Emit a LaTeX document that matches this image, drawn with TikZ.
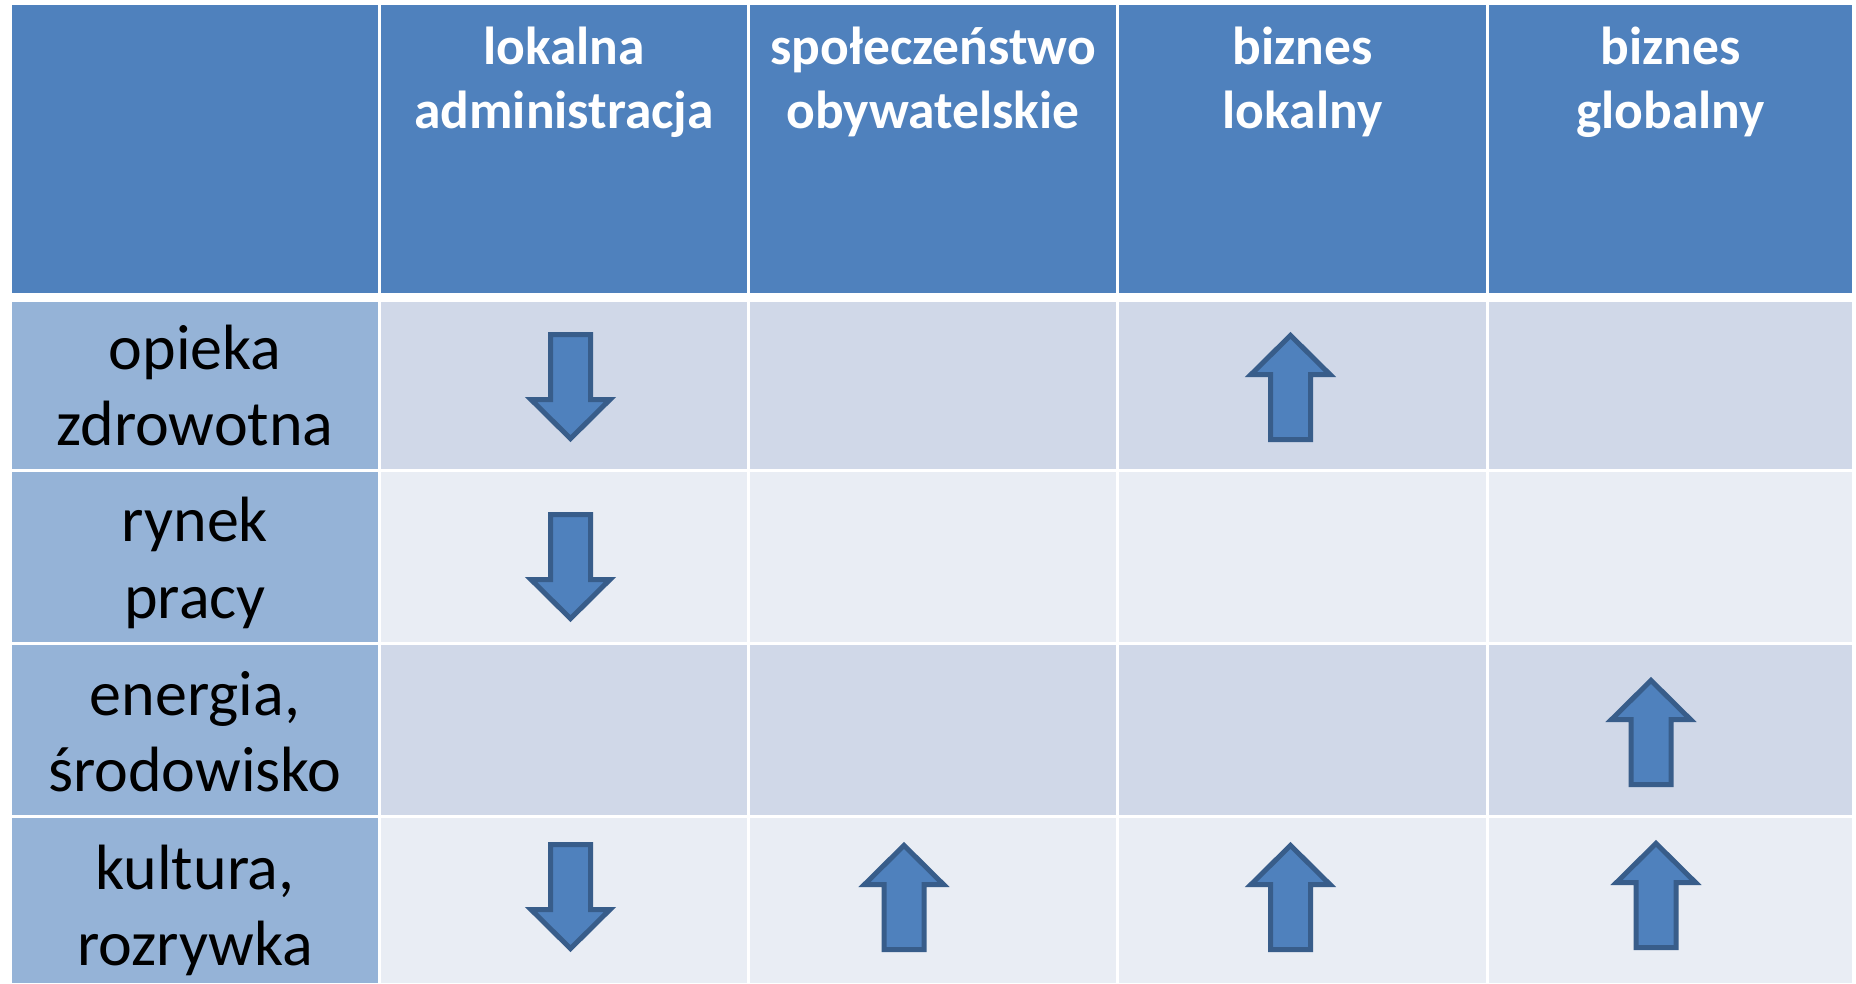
\documentclass[tikz,border=0pt]{standalone}
\usepackage{fontspec}
\setmainfont{Carlito}
\definecolor{hdr}{HTML}{4F81BD}
\definecolor{lab}{HTML}{95B3D7}
\definecolor{rowa}{HTML}{D0D8E8}
\definecolor{rowb}{HTML}{E9EDF4}
\definecolor{arrfill}{HTML}{4F81BD}
\definecolor{arrline}{HTML}{385D8A}
\tikzset{
  hdrtext/.style={text=white, font=\fontsize{53.5}{64}\selectfont\bfseries, align=center, anchor=base, inner sep=0pt},
  rowtext/.style={text=black, font=\fontsize{64}{76.5}\selectfont, align=center, anchor=base, inner sep=0pt},
  blockarrow/.style={fill=arrfill, draw=arrline, line width=5pt, line join=miter, miter limit=10}
}
% up arrow: #1 = centre x, #2 = outer tip y
\newcommand\myup[2]{%
  \draw[blockarrow] (#1,#2+3.4) -- (#1+39.5,#2+42.5) -- (#1+20,#2+42.5) -- (#1+20,#2+107.5)
    -- (#1-20,#2+107.5) -- (#1-20,#2+42.5) -- (#1-39.5,#2+42.5) -- cycle;}
% down arrow: #1 = centre x, #2 = outer top y
\newcommand\mydown[2]{%
  \draw[blockarrow] (#1-20,#2+2.5) -- (#1+20,#2+2.5) -- (#1+20,#2+67.5) -- (#1+39.5,#2+67.5)
    -- (#1,#2+106.6) -- (#1-39.5,#2+67.5) -- (#1-20,#2+67.5) -- cycle;}
\begin{document}
\begin{tikzpicture}[x=1pt,y=-1pt]
\useasboundingbox (0,0) rectangle (1856,983);
\fill[white] (0,0) rectangle (1856,983);
% header row
\fill[hdr] (12,5) rectangle (378,293);
\fill[hdr] (381,5) rectangle (747,293);
\fill[hdr] (750,5) rectangle (1116,293);
\fill[hdr] (1119,5) rectangle (1486,293);
\fill[hdr] (1489,5) rectangle (1852,293);
% label column
\fill[lab] (12,302) rectangle (378,469);
\fill[lab] (12,472) rectangle (378,642);
\fill[lab] (12,645) rectangle (378,815);
\fill[lab] (12,818) rectangle (378,983);
% body rows
\foreach \xa/\xb in {381/747,750/1116,1119/1486,1489/1852}{
  \fill[rowa] (\xa,302) rectangle (\xb,469);
  \fill[rowb] (\xa,472) rectangle (\xb,642);
  \fill[rowa] (\xa,645) rectangle (\xb,815);
  \fill[rowb] (\xa,818) rectangle (\xb,983);
}
% header texts (anchor = baseline of the last line)
\node[hdrtext] (h1) at (564,128) {lokalna\\administracja};
\node[hdrtext] (h2) at (933,128) {społeczeństwo\\obywatelskie};
\node[hdrtext] (h3) at (1302.5,128) {biznes\\lokalny};
\node[hdrtext] (h4) at (1670.5,128) {biznes\\globalny};
% row labels
\node[rowtext] (r1) at (195,445.5) {opieka\\zdrowotna};
\node[rowtext] (r2) at (195,618) {rynek\\pracy};
\node[rowtext] (r3) at (195,791.5) {energia,\\środowisko};
\node[rowtext] (r4) at (195,965.5) {kultura,\\rozrywka};
% arrows
\mydown{570.5}{332}
\mydown{570.5}{512}
\mydown{570.5}{842}
\myup{1290.5}{332}
\myup{1651}{677}
\myup{904}{842}
\myup{1290.5}{842}
\myup{1656}{840}
\end{tikzpicture}
\end{document}
